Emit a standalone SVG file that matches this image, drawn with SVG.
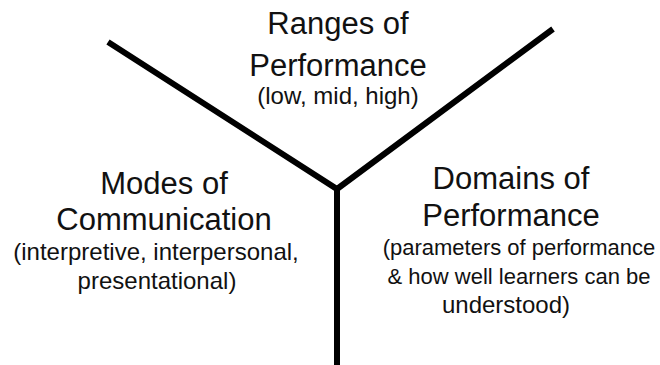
<svg xmlns="http://www.w3.org/2000/svg" width="660" height="365" viewBox="0 0 660 365">
<style>
.t{font-family:"Liberation Sans",Arial,sans-serif;fill:#111;text-anchor:middle}
.h{font-size:31px}
.s{font-size:24px}
.n{font-size:22px}
.ln{stroke:#000;stroke-width:6;fill:none;stroke-linejoin:miter}
</style>
<rect width="660" height="365" fill="#fff"/>
<g id="connectors">
<polyline class="ln" points="108,42 337,189 553,29"/>
<line class="ln" x1="337" y1="189" x2="337" y2="365"/>
</g>
<g id="ranges">
<text class="t h" x="338" y="34">Ranges of</text>
<text class="t h" x="338" y="76">Performance</text>
<text class="t s" x="338" y="104">(low, mid, high)</text>
</g>
<g id="modes">
<text class="t h" x="164" y="194">Modes of</text>
<text class="t h" x="164" y="230">Communication</text>
<text class="t s" x="156" y="260">(interpretive, interpersonal,</text>
<text class="t s" x="157" y="289">presentational)</text>
</g>
<g id="domains">
<text class="t h" x="511" y="189">Domains of</text>
<text class="t h" x="511" y="226">Performance</text>
<text class="t n" x="519" y="255">(parameters of performance</text>
<text class="t n" x="519" y="284">&amp; how well learners can be</text>
<text class="t s" x="506" y="313">understood)</text>
</g>
</svg>
